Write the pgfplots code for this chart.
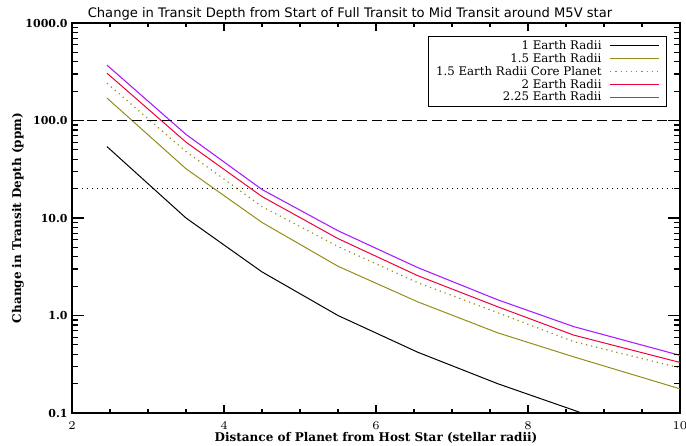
\documentclass[border=0pt]{standalone}
\usepackage{pgfplots}
\pgfplotsset{compat=1.18}
\usepackage{fontspec}
\setmainfont{DejaVu Serif}
\newfontfamily\titlefont{DejaVu Sans}
\newfontfamily\sansfont{Liberation Sans}

\definecolor{olivel}{RGB}{150,140,25}
\definecolor{redl}{RGB}{240,0,60}
\definecolor{purpl}{RGB}{170,30,255}

\tikzset{tk/.style={black, line width=0.6pt, mark=none}}

\begin{document}
\begin{tikzpicture}
\begin{axis}[
  scale only axis,
  width=304pt, height=195pt,
  xmin=2, xmax=10,
  ymode=log, ymin=0.1, ymax=1000,
  xtick={2,4,6,8,10},
  ytick={0.1,1,10,100,1000},
  yticklabels={0.1,1.0,10.0,100.0,1000.0},
  minor tick num=0,
  tick style={draw=none},
  axis line style={line width=0.6pt},
  xticklabel style={font=\sansfont\fontsize{5.8}{7}\selectfont, anchor=north, inner sep=0pt, yshift=-4pt},
  yticklabel style={font=\bfseries\fontsize{5.5}{7}\selectfont, anchor=east, inner sep=0pt, xshift=-2pt},
  xlabel={\bfseries Distance of Planet from Host Star (stellar radii)},
  ylabel={\bfseries Change in Transit Depth (ppm)},
  every axis x label/.style={at={(axis description cs:0.5,-0.064)}, anchor=center,
    font=\fontsize{6}{7}\selectfont},
  every axis y label/.style={at={(axis description cs:-0.0888,0.5)}, anchor=center, rotate=90,
    font=\fontsize{6}{7}\selectfont},
  title={Change in Transit Depth from Start of Full Transit to Mid Transit around M5V star},
  every axis title/.style={at={(axis description cs:0.5,1)}, anchor=base, yshift=2.5pt, xshift=-13pt,
    font=\titlefont\fontsize{6.55}{8}\selectfont},
  legend plot pos=right,
  legend cell align=right,
  legend style={at={(rel axis cs:0.978,0.9667)}, anchor=north east,
    font=\fontsize{5.9}{7}\selectfont, draw=black, line width=0.5pt,
    row sep=0pt, column sep=3.5pt, inner xsep=3.5pt, inner ysep=1.5pt,
    nodes={inner sep=0.5pt, text height=4.6pt, text depth=0.8pt}},
  legend image code/.code={\draw[#1] (0cm,0cm) -- (0.85cm,0cm);},
]
% 1 Earth radius
\addplot[black, line width=0.5pt] coordinates {
  (2.46,54) (3.5,10) (4.5,2.8) (5.5,1.0) (6.55,0.42) (7.6,0.20) (8.6,0.107) (9.6,0.056)};
% 1.5 Earth radii
\addplot[olivel, line width=0.5pt] coordinates {
  (2.46,170) (3.5,32) (4.5,9.0) (5.5,3.2) (6.55,1.38) (7.6,0.665) (8.6,0.377) (10,0.177)};
% 1.5 Earth radii, core planet
\addplot[olivel, line width=0.6pt, dotted] coordinates {
  (2.46,241) (3.5,48) (4.5,13.1) (5.5,5.1) (6.55,2.17) (7.6,1.07) (8.6,0.54) (10,0.29)};
% 2 Earth radii
\addplot[redl, line width=0.5pt] coordinates {
  (2.46,306) (3.5,60) (4.5,16.6) (5.5,6.15) (6.55,2.56) (7.6,1.23) (8.6,0.63) (10,0.33)};
% 2.25 Earth radii
\addplot[purpl, line width=0.55pt] coordinates {
  (2.46,370) (3.5,72) (4.5,19.6) (5.5,7.4) (6.55,3.1) (7.6,1.45) (8.6,0.77) (10,0.39)};
\legend{1 Earth Radii, 1.5 Earth Radii, 1.5 Earth Radii Core Planet, 2 Earth Radii, 2.25 Earth Radii}
% detection thresholds
\addplot[black, dash pattern=on 5pt off 2.5pt, line width=0.5pt, forget plot] coordinates {(2,100) (10,100)};
\addplot[black, dotted, line width=0.5pt, forget plot] coordinates {(2,20) (10,20)};
% inward tick marks on all four sides
% x major (4pt) and minor (2pt) ticks, bottom and top
\pgfplotsinvokeforeach{4,6,8}{
  \addplot[tk, forget plot] coordinates {(#1,0.1) (#1,0.1208)};
  \addplot[tk, forget plot] coordinates {(#1,1000) (#1,827.8)};}
\pgfplotsinvokeforeach{2.5,3,3.5,4.5,5,5.5,6.5,7,7.5,8.5,9,9.5}{
  \addplot[tk, forget plot] coordinates {(#1,0.1) (#1,0.1099)};
  \addplot[tk, forget plot] coordinates {(#1,1000) (#1,910)};}
% y major (6pt) and minor (3pt) ticks, left and right
\pgfplotsinvokeforeach{1,10,100}{
  \addplot[tk, forget plot] coordinates {(2,#1) (2.158,#1)};
  \addplot[tk, forget plot] coordinates {(10,#1) (9.842,#1)};}
\pgfplotsinvokeforeach{0.2,0.3,0.4,0.5,0.6,0.7,0.8,0.9,2,3,4,5,6,7,8,9,20,30,40,50,60,70,80,90,200,300,400,500,600,700,800,900}{
  \addplot[tk, forget plot] coordinates {(2,#1) (2.079,#1)};
  \addplot[tk, forget plot] coordinates {(10,#1) (9.921,#1)};}
\end{axis}
\pgfresetboundingbox
\useasboundingbox (-36pt,-16pt) rectangle (307pt,206.5pt);
\end{tikzpicture}
\end{document}
